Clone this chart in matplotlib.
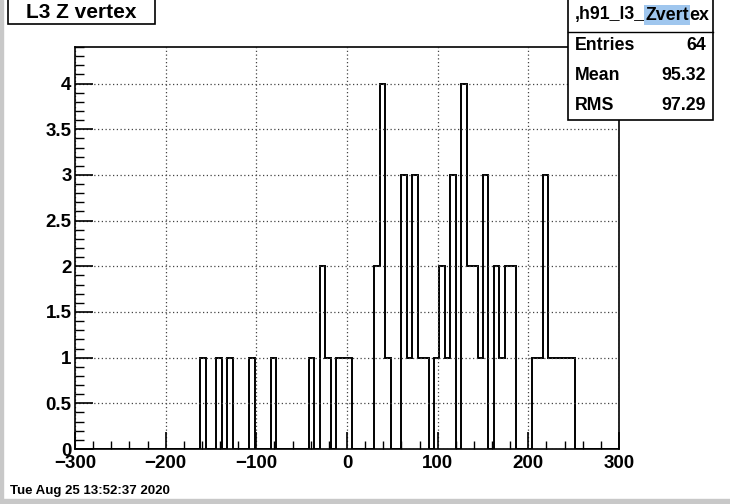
import numpy as np
import matplotlib.pyplot as plt
from matplotlib.patches import Rectangle

# histogram definition: 100 bins from -300 to 300
n_bins = 100
x_lo, x_hi = -300, 300

# non-empty bins (index) and their contents
bin_index = [23, 26, 28, 32, 36, 43, 45, 46, 48, 49, 50,
             55, 56, 57, 60, 61, 62, 63, 64, 66, 67, 68, 69,
             71, 72, 73, 74, 75, 77, 78, 79, 80,
             84, 85, 86, 87, 88, 89, 90, 91]
bin_count = [1, 1, 1, 1, 1, 1, 2, 1, 1, 1, 1,
             2, 4, 1, 3, 1, 3, 1, 1, 1, 2, 1, 3,
             4, 2, 2, 1, 3, 2, 1, 2, 2,
             1, 1, 3, 1, 1, 1, 1, 1]

stat_names = ['Entries', 'Mean', 'RMS']
stat_values = ['64', '95.32', '97.29']

W, H = 730, 504


def fx(x):
    return x / W


def fy(y):
    return 1 - y / H


counts = np.zeros(n_bins)
counts[bin_index] = bin_count
edges = np.linspace(x_lo, x_hi, n_bins + 1)

plt.rcParams['font.family'] = ['Liberation Sans', 'DejaVu Sans']

fig = plt.figure(figsize=(7.3, 5.04), dpi=100)
fig.patch.set_facecolor('white')

# grey screenshot border
fig.patches.append(Rectangle((0, 0), fx(3), 1, transform=fig.transFigure, color='#c8c8c8', zorder=0))
fig.patches.append(Rectangle((0, 0), 1, fy(499), transform=fig.transFigure, color='#c8c8c8', zorder=0))

ax = fig.add_axes([fx(75), fy(449), fx(619 - 75), fy(47) - fy(449)])
ax.stairs(counts, edges, color='black', lw=1.4, baseline=0)

ax.set_xlim(x_lo, x_hi)
ax.set_ylim(0, 4.4)
ax.set_xticks(np.arange(-300, 301, 100))
ax.set_xticks(np.arange(-300, 301, 20), minor=True)
ax.set_yticks(np.arange(0, 4.01, 0.5))
ax.set_yticks(np.arange(0, 4.41, 0.1), minor=True)
ax.set_yticklabels(['0', '0.5', '1', '1.5', '2', '2.5', '3', '3.5', '4'])

ax.tick_params(which='major', direction='in', length=13, width=1.2, labelsize=13.5)
ax.tick_params(which='minor', direction='in', length=6.5, width=1.0)
ax.tick_params(axis='x', which='major', length=12, pad=4)
ax.tick_params(axis='x', which='minor', length=6)
ax.tick_params(axis='y', which='major', pad=2.5)
for lab in ax.get_xticklabels() + ax.get_yticklabels():
    lab.set_fontweight('bold')

ax.grid(True, which='major', color='#444444', linestyle=(0, (1, 2)), lw=0.9)
for s in ax.spines.values():
    s.set_linewidth(1.2)

# title box
fig.patches.append(Rectangle((fx(8), fy(24)), fx(147), fy(-2) - fy(24), transform=fig.transFigure,
                             facecolor='white', edgecolor='black', lw=1.2, zorder=5))
fig.text(fx(81), fy(13), 'L3 Z vertex', ha='center', va='center', fontsize=15, fontweight='bold', zorder=6)

# stats box
fig.patches.append(Rectangle((fx(568), fy(120)), fx(145), fy(-2) - fy(120), transform=fig.transFigure,
                             facecolor='white', edgecolor='black', lw=1.2, zorder=5))
fig.add_artist(plt.Line2D([fx(568), fx(713)], [fy(32), fy(32)], transform=fig.transFigure,
                          color='black', lw=1.0, zorder=6))

fig.canvas.draw()
r = fig.canvas.get_renderer()
parts = [(',h91_l3_', None), ('Zvert', '#9fc6ee'), ('ex', None)]
x0 = fx(575)
for txt, bg in parts:
    t = fig.text(x0, fy(15), txt, ha='left', va='center', fontsize=12.8, fontweight='bold', zorder=7)
    if bg:
        t.set_bbox(dict(facecolor=bg, edgecolor='none', pad=1))
    bb = t.get_window_extent(renderer=r)
    x0 = x0 + bb.width / W

row_y = [46, 76, 105]
for name, val, yy in zip(stat_names, stat_values, row_y):
    fig.text(fx(575), fy(yy), name, ha='left', va='center', fontsize=12.8, fontweight='bold', zorder=7)
    fig.text(fx(706), fy(yy), val, ha='right', va='center', fontsize=12.8, fontweight='bold', zorder=7)

fig.text(fx(10), fy(491), 'Tue Aug 25 13:52:37 2020', ha='left', va='center', fontsize=9.5, fontweight='bold')

fig.savefig('out.png', dpi=100)
